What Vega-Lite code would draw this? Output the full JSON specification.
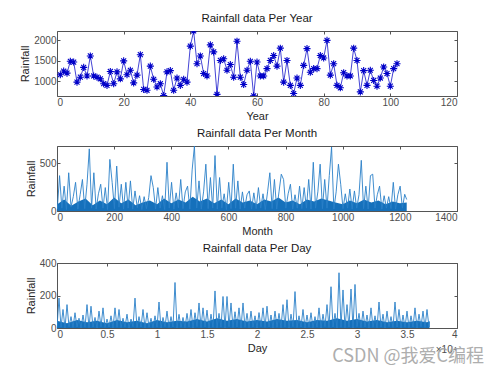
{
  "$schema": "https://vega.github.io/schema/vega-lite/v6.json",
  "background": "white",
  "padding": {"left": 19, "top": 12, "right": 5, "bottom": 5},
  "spacing": 5,
  "config": {
    "font": "Liberation Sans",
    "view": {"stroke": "#555555", "strokeWidth": 1},
    "axis": {"grid": false, "domain": false, "tickColor": "#555555", "tickSize": -3, "labelFontSize": 10, "labelColor": "#4d4d4d", "titleFontSize": 11, "titleFontWeight": "normal", "titleColor": "#262626", "labelPadding": 4, "titlePadding": 3, "format": "d"},
    "title": {"fontSize": 11.5, "fontWeight": "normal", "color": "#1a1a1a", "offset": 4}
  },
  "vconcat": [
    {
      "title": "Rainfall data Per Year",
      "width": 400, "height": 65,
      "data": {"values": [
        {"year":1,"rainfall":1160},{"year":2,"rainfall":1250},{"year":3,"rainfall":1200},{"year":4,"rainfall":1490},{"year":5,"rainfall":1470},{"year":6,"rainfall":980},{"year":7,"rainfall":1100},{"year":8,"rainfall":1340},{"year":9,"rainfall":1130},{"year":10,"rainfall":1620},
        {"year":11,"rainfall":1130},{"year":12,"rainfall":1100},{"year":13,"rainfall":1060},{"year":14,"rainfall":940},{"year":15,"rainfall":900},{"year":16,"rainfall":1240},{"year":17,"rainfall":940},{"year":18,"rainfall":1230},{"year":19,"rainfall":1060},{"year":20,"rainfall":1500},
        {"year":21,"rainfall":1160},{"year":22,"rainfall":1270},{"year":23,"rainfall":960},{"year":24,"rainfall":1150},{"year":25,"rainfall":1650},{"year":26,"rainfall":800},{"year":27,"rainfall":780},{"year":28,"rainfall":1370},{"year":29,"rainfall":1050},{"year":30,"rainfall":860},
        {"year":31,"rainfall":940},{"year":32,"rainfall":650},{"year":33,"rainfall":1230},{"year":34,"rainfall":1260},{"year":35,"rainfall":780},{"year":36,"rainfall":1080},{"year":37,"rainfall":900},{"year":38,"rainfall":1050},{"year":39,"rainfall":980},{"year":40,"rainfall":1860},
        {"year":41,"rainfall":2230},{"year":42,"rainfall":1430},{"year":43,"rainfall":1620},{"year":44,"rainfall":1190},{"year":45,"rainfall":1130},{"year":46,"rainfall":1890},{"year":47,"rainfall":1720},{"year":48,"rainfall":680},{"year":49,"rainfall":1510},{"year":50,"rainfall":1550},
        {"year":51,"rainfall":1270},{"year":52,"rainfall":1410},{"year":53,"rainfall":1100},{"year":54,"rainfall":1980},{"year":55,"rainfall":1100},{"year":56,"rainfall":920},{"year":57,"rainfall":1270},{"year":58,"rainfall":1490},{"year":59,"rainfall":645},{"year":60,"rainfall":1470},
        {"year":61,"rainfall":1130},{"year":62,"rainfall":1130},{"year":63,"rainfall":1310},{"year":64,"rainfall":1510},{"year":65,"rainfall":1630},{"year":66,"rainfall":1370},{"year":67,"rainfall":1810},{"year":68,"rainfall":980},{"year":69,"rainfall":1510},{"year":70,"rainfall":900},
        {"year":71,"rainfall":700},{"year":72,"rainfall":1080},{"year":73,"rainfall":900},{"year":74,"rainfall":1390},{"year":75,"rainfall":1800},{"year":76,"rainfall":1220},{"year":77,"rainfall":1310},{"year":78,"rainfall":1310},{"year":79,"rainfall":1630},{"year":80,"rainfall":1570},
        {"year":81,"rainfall":2000},{"year":82,"rainfall":1150},{"year":83,"rainfall":1430},{"year":84,"rainfall":900},{"year":85,"rainfall":840},{"year":86,"rainfall":1210},{"year":87,"rainfall":1130},{"year":88,"rainfall":1130},{"year":89,"rainfall":1810},{"year":90,"rainfall":1510},
        {"year":91,"rainfall":740},{"year":92,"rainfall":1260},{"year":93,"rainfall":900},{"year":94,"rainfall":1270},{"year":95,"rainfall":1020},{"year":96,"rainfall":880},{"year":97,"rainfall":1080},{"year":98,"rainfall":1350},{"year":99,"rainfall":1190},{"year":100,"rainfall":880},
        {"year":101,"rainfall":1310},{"year":102,"rainfall":1430}
      ]},
      "layer": [
        {
          "mark": {"type": "line", "color": "#4545d5", "strokeWidth": 1, "clip": true},
          "encoding": {
            "x": {"field": "year", "type": "quantitative", "scale": {"domain": [0, 120], "nice": false}, "axis": {"values": [0, 20, 40, 60, 80, 100, 120], "title": "Year"}},
            "y": {"field": "rainfall", "type": "quantitative", "scale": {"domain": [640, 2230], "nice": false, "zero": false}, "axis": {"values": [1000, 1500, 2000], "title": "Rainfall"}}
          }
        },
        {
          "mark": {"type": "point", "shape": "M0,-1L0,1M-1,0L1,0M-0.7,-0.7L0.7,0.7M-0.7,0.7L0.7,-0.7", "filled": false, "stroke": "#0000c8", "strokeWidth": 1.1, "size": 50, "opacity": 1, "clip": true},
          "encoding": {
            "x": {"field": "year", "type": "quantitative", "axis": null},
            "y": {"field": "rainfall", "type": "quantitative", "axis": null}
          }
        },
        {
          "mark": {"type": "point", "opacity": 0},
          "encoding": {
            "x": {"field": "year", "type": "quantitative", "axis": {"orient": "top", "labels": false, "title": null, "values": [0, 20, 40, 60, 80, 100, 120]}},
            "y": {"field": "rainfall", "type": "quantitative", "axis": {"orient": "right", "labels": false, "title": null, "values": [1000, 1500, 2000]}}
          }
        }
      ],
      "resolve": {"axis": {"x": "independent", "y": "independent"}}
    },
    {
      "title": "Rainfall data Per Month",
      "width": 400, "height": 65,
      "layer": [
        {
          "data": {"values": [
            {"m":1,"v":70},{"m":25,"v":120},{"m":50,"v":55},{"m":75,"v":100},{"m":100,"v":130},{"m":125,"v":60},{"m":150,"v":110},{"m":175,"v":70},{"m":200,"v":140},{"m":225,"v":80},
            {"m":250,"v":120},{"m":275,"v":60},{"m":300,"v":90},{"m":325,"v":110},{"m":350,"v":70},{"m":375,"v":130},{"m":400,"v":80},{"m":425,"v":120},{"m":450,"v":90},{"m":475,"v":150},
            {"m":500,"v":100},{"m":525,"v":130},{"m":550,"v":80},{"m":575,"v":120},{"m":600,"v":70},{"m":625,"v":130},{"m":650,"v":90},{"m":675,"v":110},{"m":700,"v":70},{"m":725,"v":120},
            {"m":750,"v":100},{"m":775,"v":140},{"m":800,"v":90},{"m":825,"v":110},{"m":850,"v":70},{"m":875,"v":120},{"m":900,"v":100},{"m":925,"v":130},{"m":950,"v":110},{"m":975,"v":90},
            {"m":1000,"v":70},{"m":1025,"v":110},{"m":1050,"v":80},{"m":1075,"v":120},{"m":1100,"v":90},{"m":1125,"v":110},{"m":1150,"v":70},{"m":1175,"v":100},{"m":1200,"v":80},{"m":1224,"v":90}
          ]},
          "mark": {"type": "area", "color": "#1570bb", "opacity": 1, "clip": true},
          "encoding": {
            "x": {"field": "m", "type": "quantitative", "scale": {"domain": [0, 1400], "nice": false}, "axis": {"values": [0, 200, 400, 600, 800, 1000, 1200, 1400], "title": "Month"}},
            "y": {"field": "v", "type": "quantitative", "scale": {"domain": [0, 680], "nice": false}, "axis": {"values": [0, 500], "title": "Rainfall"}}
          }
        },
        {
          "data": {"values": [
            {"m":1,"v":20},{"m":9,"v":370},{"m":17,"v":30},{"m":25,"v":260},{"m":33,"v":15},{"m":41,"v":400},{"m":49,"v":40},{"m":57,"v":150},{"m":65,"v":300},{"m":73,"v":20},
            {"m":81,"v":170},{"m":89,"v":330},{"m":97,"v":25},{"m":105,"v":280},{"m":113,"v":650},{"m":121,"v":30},{"m":129,"v":400},{"m":137,"v":20},{"m":145,"v":180},{"m":153,"v":280},
            {"m":161,"v":30},{"m":169,"v":245},{"m":177,"v":15},{"m":185,"v":540},{"m":193,"v":300},{"m":201,"v":25},{"m":209,"v":470},{"m":217,"v":40},{"m":225,"v":280},{"m":233,"v":20},
            {"m":241,"v":300},{"m":249,"v":30},{"m":257,"v":315},{"m":265,"v":20},{"m":273,"v":210},{"m":281,"v":35},{"m":289,"v":160},{"m":297,"v":15},{"m":305,"v":150},{"m":313,"v":25},
            {"m":321,"v":140},{"m":329,"v":370},{"m":337,"v":245},{"m":345,"v":20},{"m":353,"v":245},{"m":361,"v":30},{"m":369,"v":160},{"m":377,"v":15},{"m":385,"v":510},{"m":393,"v":30},
            {"m":401,"v":300},{"m":409,"v":20},{"m":417,"v":190},{"m":425,"v":35},{"m":433,"v":330},{"m":441,"v":25},{"m":449,"v":200},{"m":457,"v":260},{"m":465,"v":20},{"m":473,"v":430},
            {"m":481,"v":680},{"m":489,"v":30},{"m":497,"v":315},{"m":505,"v":20},{"m":513,"v":200},{"m":521,"v":490},{"m":529,"v":25},{"m":537,"v":350},{"m":545,"v":30},{"m":553,"v":580},
            {"m":561,"v":20},{"m":569,"v":350},{"m":577,"v":30},{"m":585,"v":180},{"m":593,"v":15},{"m":601,"v":300},{"m":609,"v":25},{"m":617,"v":490},{"m":625,"v":30},{"m":633,"v":315},
            {"m":641,"v":20},{"m":649,"v":200},{"m":657,"v":30},{"m":665,"v":170},{"m":673,"v":210},{"m":681,"v":20},{"m":689,"v":190},{"m":697,"v":25},{"m":705,"v":245},{"m":713,"v":30},
            {"m":721,"v":180},{"m":729,"v":15},{"m":737,"v":200},{"m":745,"v":400},{"m":753,"v":25},{"m":761,"v":330},{"m":769,"v":20},{"m":777,"v":200},{"m":785,"v":385},{"m":793,"v":330},
            {"m":801,"v":30},{"m":809,"v":180},{"m":817,"v":280},{"m":825,"v":20},{"m":833,"v":170},{"m":841,"v":30},{"m":849,"v":260},{"m":857,"v":25},{"m":865,"v":245},{"m":873,"v":30},
            {"m":881,"v":330},{"m":889,"v":20},{"m":897,"v":510},{"m":905,"v":30},{"m":913,"v":200},{"m":921,"v":490},{"m":929,"v":25},{"m":937,"v":330},{"m":945,"v":30},{"m":953,"v":370},
            {"m":961,"v":670},{"m":969,"v":20},{"m":977,"v":200},{"m":985,"v":490},{"m":993,"v":280},{"m":1001,"v":25},{"m":1009,"v":180},{"m":1017,"v":30},{"m":1025,"v":230},{"m":1033,"v":20},
            {"m":1041,"v":210},{"m":1049,"v":30},{"m":1057,"v":170},{"m":1065,"v":530},{"m":1073,"v":25},{"m":1081,"v":260},{"m":1089,"v":20},{"m":1097,"v":370},{"m":1105,"v":385},{"m":1113,"v":30},
            {"m":1121,"v":170},{"m":1129,"v":260},{"m":1137,"v":20},{"m":1145,"v":160},{"m":1153,"v":30},{"m":1161,"v":150},{"m":1169,"v":25},{"m":1177,"v":300},{"m":1185,"v":20},{"m":1193,"v":170},
            {"m":1201,"v":260},{"m":1209,"v":30},{"m":1217,"v":175},{"m":1224,"v":120}
          ]},
          "mark": {"type": "line", "color": "#2a80c8", "strokeWidth": 0.9, "clip": true},
          "encoding": {
            "x": {"field": "m", "type": "quantitative", "axis": null},
            "y": {"field": "v", "type": "quantitative", "axis": null}
          }
        },
        {
          "data": {"values": [{"m":0,"v":0},{"m":1400,"v":680}]},
          "mark": {"type": "point", "opacity": 0},
          "encoding": {
            "x": {"field": "m", "type": "quantitative", "axis": {"orient": "top", "labels": false, "title": null, "values": [0, 200, 400, 600, 800, 1000, 1200, 1400]}},
            "y": {"field": "v", "type": "quantitative", "axis": {"orient": "right", "labels": false, "title": null, "values": [0, 500]}}
          }
        }
      ],
      "resolve": {"axis": {"x": "independent", "y": "independent"}}
    },
    {
      "title": "Rainfall data Per Day",
      "width": 400, "height": 65,
      "layer": [
        {
          "data": {"values": [
            {"d":1,"v":45},{"d":1000,"v":30},{"d":2000,"v":50},{"d":3000,"v":35},{"d":4000,"v":45},{"d":5000,"v":30},{"d":6000,"v":50},{"d":7000,"v":35},{"d":8000,"v":45},{"d":9000,"v":30},
            {"d":10000,"v":50},{"d":11000,"v":35},{"d":12000,"v":45},{"d":13000,"v":40},{"d":14000,"v":55},{"d":15000,"v":40},{"d":16000,"v":60},{"d":17000,"v":45},{"d":18000,"v":55},{"d":19000,"v":40},
            {"d":20000,"v":50},{"d":21000,"v":40},{"d":22000,"v":55},{"d":23000,"v":45},{"d":24000,"v":50},{"d":25000,"v":35},{"d":26000,"v":50},{"d":27000,"v":45},{"d":28000,"v":60},{"d":29000,"v":45},
            {"d":30000,"v":55},{"d":31000,"v":40},{"d":32000,"v":50},{"d":33000,"v":35},{"d":34000,"v":45},{"d":35000,"v":35},{"d":36000,"v":45},{"d":37000,"v":35},{"d":37250,"v":40}
          ]},
          "mark": {"type": "area", "color": "#1570bb", "opacity": 1, "clip": true},
          "encoding": {
            "x": {"field": "d", "type": "quantitative", "scale": {"domain": [0, 40000], "nice": false}, "axis": {"values": [0, 5000, 10000, 15000, 20000, 25000, 30000, 35000, 40000], "labelExpr": "datum.value / 10000", "title": "Day"}},
            "y": {"field": "v", "type": "quantitative", "scale": {"domain": [0, 400], "nice": false}, "axis": {"values": [0, 200, 400], "title": "Rainfall"}}
          }
        },
        {
          "data": {"values": [
            {"d":1,"v":3},{"d":201,"v":184},{"d":401,"v":5},{"d":601,"v":114},{"d":801,"v":0},{"d":1001,"v":144},{"d":1201,"v":8},{"d":1401,"v":70},{"d":1601,"v":3},{"d":1801,"v":94},
            {"d":2001,"v":6},{"d":2201,"v":60},{"d":2401,"v":1},{"d":2601,"v":80},{"d":2801,"v":4},{"d":3001,"v":144},{"d":3201,"v":2},{"d":3401,"v":134},{"d":3601,"v":5},{"d":3801,"v":65},
            {"d":4001,"v":0},{"d":4201,"v":104},{"d":4401,"v":8},{"d":4601,"v":124},{"d":4801,"v":3},{"d":5001,"v":55},{"d":5201,"v":6},{"d":5401,"v":75},{"d":5601,"v":1},{"d":5801,"v":124},
            {"d":6001,"v":4},{"d":6201,"v":114},{"d":6401,"v":2},{"d":6601,"v":60},{"d":6801,"v":5},{"d":7001,"v":85},{"d":7201,"v":0},{"d":7401,"v":55},{"d":7601,"v":8},{"d":7801,"v":184},
            {"d":8001,"v":3},{"d":8201,"v":70},{"d":8401,"v":6},{"d":8601,"v":114},{"d":8801,"v":1},{"d":9001,"v":94},{"d":9201,"v":4},{"d":9401,"v":60},{"d":9601,"v":2},{"d":9801,"v":75},
            {"d":10001,"v":5},{"d":10201,"v":160},{"d":10401,"v":0},{"d":10601,"v":65},{"d":10801,"v":8},{"d":11001,"v":104},{"d":11201,"v":3},{"d":11401,"v":70},{"d":11601,"v":6},{"d":11801,"v":280},
            {"d":12001,"v":1},{"d":12201,"v":84},{"d":12401,"v":4},{"d":12601,"v":65},{"d":12801,"v":2},{"d":13001,"v":90},{"d":13201,"v":5},{"d":13401,"v":114},{"d":13601,"v":0},{"d":13801,"v":94},
            {"d":14001,"v":8},{"d":14201,"v":154},{"d":14401,"v":3},{"d":14601,"v":124},{"d":14801,"v":6},{"d":15001,"v":110},{"d":15201,"v":1},{"d":15401,"v":85},{"d":15601,"v":4},{"d":15801,"v":228},
            {"d":16001,"v":2},{"d":16201,"v":90},{"d":16401,"v":5},{"d":16601,"v":194},{"d":16801,"v":0},{"d":17001,"v":194},{"d":17201,"v":8},{"d":17401,"v":154},{"d":17601,"v":3},{"d":17801,"v":100},
            {"d":18001,"v":6},{"d":18201,"v":124},{"d":18401,"v":1},{"d":18601,"v":154},{"d":18801,"v":4},{"d":19001,"v":90},{"d":19201,"v":2},{"d":19401,"v":104},{"d":19601,"v":5},{"d":19801,"v":75},
            {"d":20001,"v":0},{"d":20201,"v":95},{"d":20401,"v":8},{"d":20601,"v":124},{"d":20801,"v":3},{"d":21001,"v":134},{"d":21201,"v":6},{"d":21401,"v":80},{"d":21601,"v":1},{"d":21801,"v":104},
            {"d":22001,"v":4},{"d":22201,"v":90},{"d":22401,"v":2},{"d":22601,"v":144},{"d":22801,"v":5},{"d":23001,"v":174},{"d":23201,"v":0},{"d":23401,"v":85},{"d":23601,"v":8},{"d":23801,"v":224},
            {"d":24001,"v":3},{"d":24201,"v":75},{"d":24401,"v":6},{"d":24601,"v":114},{"d":24801,"v":1},{"d":25001,"v":80},{"d":25201,"v":4},{"d":25401,"v":94},{"d":25601,"v":2},{"d":25801,"v":70},
            {"d":26001,"v":5},{"d":26201,"v":124},{"d":26401,"v":0},{"d":26601,"v":85},{"d":26801,"v":8},{"d":27001,"v":144},{"d":27201,"v":3},{"d":27401,"v":254},{"d":27601,"v":6},{"d":27801,"v":90},
            {"d":28001,"v":1},{"d":28201,"v":340},{"d":28401,"v":4},{"d":28601,"v":234},{"d":28801,"v":2},{"d":29001,"v":144},{"d":29201,"v":5},{"d":29401,"v":240},{"d":29601,"v":0},{"d":29801,"v":268},
            {"d":30001,"v":8},{"d":30201,"v":90},{"d":30401,"v":3},{"d":30601,"v":104},{"d":30801,"v":6},{"d":31001,"v":80},{"d":31201,"v":1},{"d":31401,"v":124},{"d":31601,"v":4},{"d":31801,"v":75},
            {"d":32001,"v":2},{"d":32201,"v":160},{"d":32401,"v":5},{"d":32601,"v":85},{"d":32801,"v":0},{"d":33001,"v":104},{"d":33201,"v":8},{"d":33401,"v":70},{"d":33601,"v":3},{"d":33801,"v":160},
            {"d":34001,"v":6},{"d":34201,"v":114},{"d":34401,"v":1},{"d":34601,"v":80},{"d":34801,"v":4},{"d":35001,"v":104},{"d":35201,"v":2},{"d":35401,"v":75},{"d":35601,"v":5},{"d":35801,"v":124},
            {"d":36001,"v":0},{"d":36201,"v":85},{"d":36401,"v":8},{"d":36601,"v":104},{"d":36801,"v":3},{"d":37001,"v":114},{"d":37201,"v":6},{"d":37250,"v":40}
          ]},
          "mark": {"type": "line", "color": "#2a80c8", "strokeWidth": 0.9, "clip": true},
          "encoding": {
            "x": {"field": "d", "type": "quantitative", "axis": null},
            "y": {"field": "v", "type": "quantitative", "axis": null}
          }
        },
        {
          "data": {"values": [{"d":0,"v":0},{"d":40000,"v":400}]},
          "mark": {"type": "point", "opacity": 0},
          "encoding": {
            "x": {"field": "d", "type": "quantitative", "axis": {"orient": "top", "labels": false, "title": null, "values": [0, 5000, 10000, 15000, 20000, 25000, 30000, 35000, 40000]}},
            "y": {"field": "v", "type": "quantitative", "axis": {"orient": "right", "labels": false, "title": null, "values": [0, 200, 400]}}
          }
        },
        {
          "data": {"values": [{"label": "×10⁴"}]},
          "mark": {"type": "text", "align": "right", "baseline": "middle", "dy": 22, "fontSize": 10, "color": "#4d4d4d"},
          "encoding": {
            "x": {"datum": 40000, "type": "quantitative", "axis": null},
            "y": {"datum": 0, "type": "quantitative", "axis": null},
            "text": {"field": "label"}
          }
        },
        {
          "data": {"values": [{"label": "CSDN @我爱C编程"}]},
          "mark": {"type": "text", "align": "right", "baseline": "middle", "dx": 27, "dy": 29, "fontSize": 18, "font": "Noto Sans CJK SC", "color": "#a0a0a0", "opacity": 0.85},
          "encoding": {
            "x": {"datum": 40000, "type": "quantitative", "axis": null},
            "y": {"datum": 0, "type": "quantitative", "axis": null},
            "text": {"field": "label"}
          }
        }
      ],
      "resolve": {"axis": {"x": "independent", "y": "independent"}}
    }
  ]
}
